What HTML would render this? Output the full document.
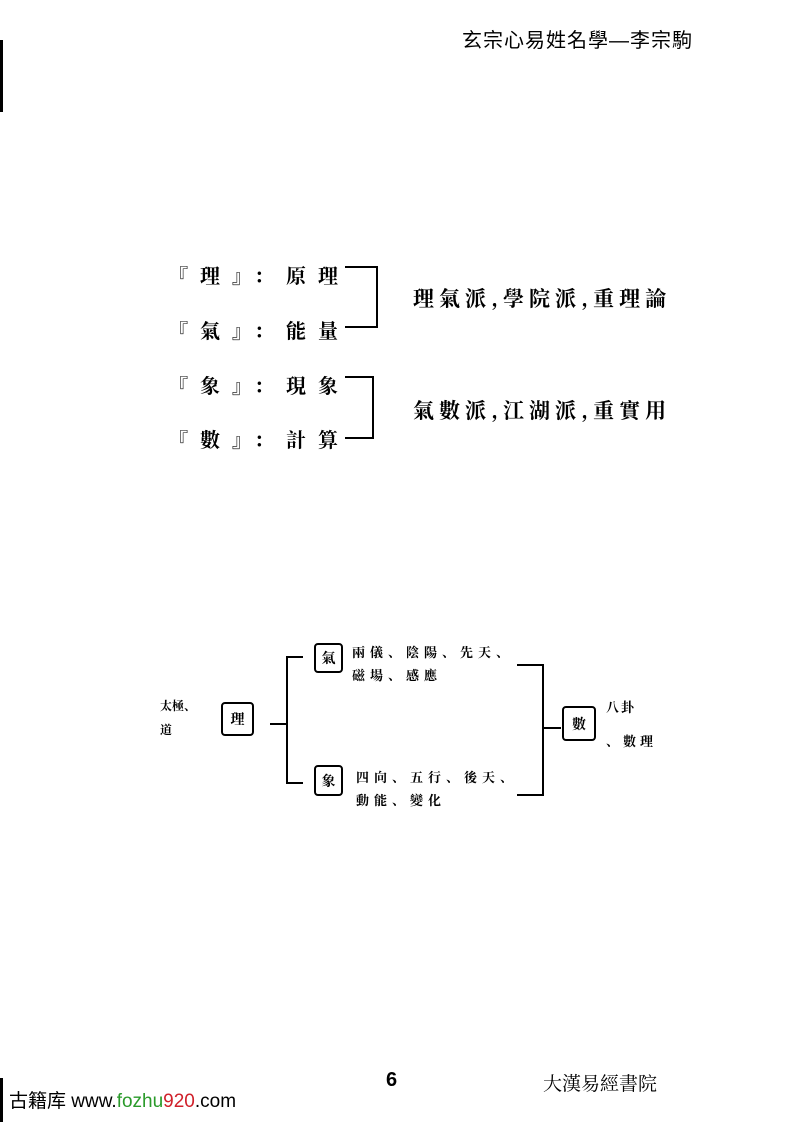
<!DOCTYPE html>
<html><head><meta charset="utf-8"><style>
body{margin:0;width:787px;height:1122px;background:#fff;position:relative;overflow:hidden;font-family:"Liberation Sans","Noto Sans CJK TC",sans-serif;color:#000}
.t{position:absolute;white-space:nowrap;line-height:1}
.h{position:absolute;background:#000}
.box{position:absolute;border:2px solid #000;border-radius:4px;box-sizing:border-box;display:flex;align-items:center;justify-content:center;font-weight:bold;font-size:14px;font-family:"Noto Serif CJK SC",serif}
.s{font-family:"Noto Serif CJK SC","Noto Sans CJK TC",serif;font-weight:bold}
</style></head><body>
<div class="h" style="left:0;top:40px;width:3px;height:72px"></div>
<div class="t" style="left:462px;top:31px;font-size:20px;letter-spacing:1px">玄宗心易姓名學—李宗駒</div>

<div class="t s" style="left:168px;top:265px;font-size:20px;letter-spacing:12px">『理』：原理</div>
<div class="t s" style="left:168px;top:320px;font-size:20px;letter-spacing:12px">『氣』：能量</div>
<div class="t s" style="left:168px;top:375px;font-size:20px;letter-spacing:12px">『象』：現象</div>
<div class="t s" style="left:168px;top:429px;font-size:20px;letter-spacing:12px">『數』：計算</div>

<div class="h" style="left:345px;top:266px;width:33px;height:2px"></div>
<div class="h" style="left:376px;top:266px;width:2px;height:62px"></div>
<div class="h" style="left:345px;top:326px;width:33px;height:2px"></div>
<div class="h" style="left:345px;top:376px;width:29px;height:2px"></div>
<div class="h" style="left:372px;top:376px;width:2px;height:63px"></div>
<div class="h" style="left:345px;top:437px;width:29px;height:2px"></div>

<div class="t s" style="left:413px;top:288px;font-size:21px;letter-spacing:5px">理氣派,學院派,重理論</div>
<div class="t s" style="left:413px;top:400px;font-size:21px;letter-spacing:5px">氣數派,江湖派,重實用</div>

<div class="t s" style="left:160px;top:700px;font-size:12px">太極、</div>
<div class="t s" style="left:160px;top:724px;font-size:12px">道</div>
<div class="box" style="left:221px;top:702px;width:33px;height:34px">理</div>
<div class="h" style="left:270px;top:723px;width:18px;height:2px"></div>
<div class="h" style="left:286px;top:656px;width:2px;height:128px"></div>
<div class="h" style="left:286px;top:656px;width:17px;height:2px"></div>
<div class="h" style="left:286px;top:782px;width:17px;height:2px"></div>

<div class="box" style="left:314px;top:643px;width:29px;height:30px">氣</div>
<div class="t s" style="left:352px;top:645px;font-size:13px;letter-spacing:5px">兩儀、陰陽、先天、</div>
<div class="t s" style="left:352px;top:668px;font-size:13px;letter-spacing:5px">磁場、感應</div>
<div class="box" style="left:314px;top:765px;width:29px;height:31px">象</div>
<div class="t s" style="left:356px;top:770px;font-size:13px;letter-spacing:5px">四向、五行、後天、</div>
<div class="t s" style="left:356px;top:793px;font-size:13px;letter-spacing:5px">動能、變化</div>

<div class="h" style="left:517px;top:664px;width:27px;height:2px"></div>
<div class="h" style="left:542px;top:664px;width:2px;height:132px"></div>
<div class="h" style="left:517px;top:794px;width:27px;height:2px"></div>
<div class="h" style="left:543px;top:727px;width:18px;height:2px"></div>
<div class="box" style="left:562px;top:706px;width:34px;height:35px">數</div>
<div class="t s" style="left:606px;top:700px;font-size:13px;letter-spacing:2px">八卦</div>
<div class="t s" style="left:606px;top:734px;font-size:13px;letter-spacing:4px">、數理</div>

<div class="t" style="left:386px;top:1070px;font-size:20px;font-weight:bold">6</div>
<div class="t" style="left:543px;top:1073px;font-size:19px;font-family:'Noto Serif CJK SC',serif">大漢易經書院</div>
<div class="h" style="left:0;top:1078px;width:3px;height:44px"></div>
<div class="t" style="left:9px;top:1092px;font-size:19px">古籍库 www.<span style="color:#2a9a2a">fozhu</span><span style="color:#d0202a">920</span>.com</div>
</body></html>
